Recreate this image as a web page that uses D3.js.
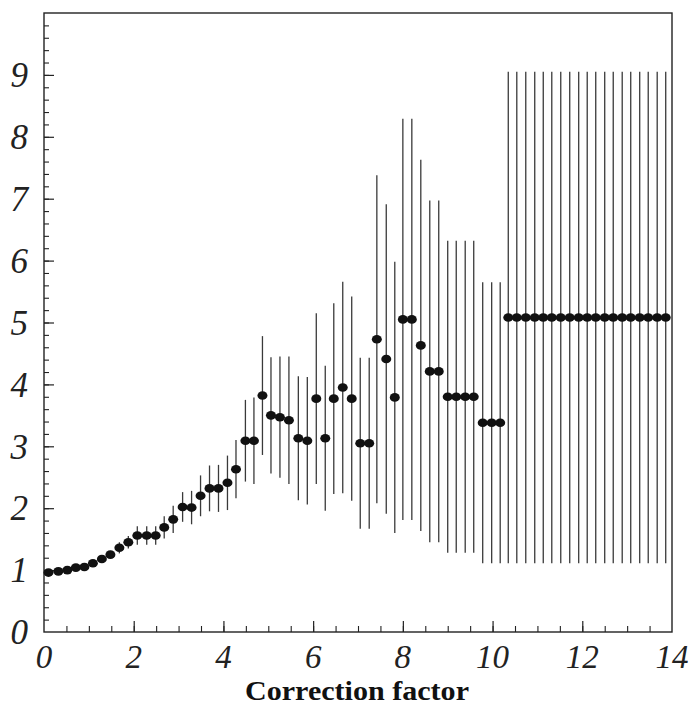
<!DOCTYPE html>
<html><head><meta charset="utf-8">
<script src="https://cdn.jsdelivr.net/npm/d3@7"></script>
<style>html,body{margin:0;padding:0;background:#fff;}svg{display:block;}</style>
</head><body>
<script>
// Bin positions (x), central values and symmetric errors
const xPos = [0.10,0.32,0.52,0.71,0.90,1.09,1.29,1.48,1.68,1.88,
  2.08,2.29,2.49,2.68,2.88,3.09,3.29,3.49,3.69,3.89,
  4.09,4.28,4.49,4.68,4.87,5.06,5.26,5.46,5.67,5.87,
  6.07,6.27,6.46,6.66,6.86,7.05,7.25,7.42,7.63,7.82,
  8.00,8.20,8.40,8.60,8.80,9.00,9.19,9.39,9.58,9.78,
  9.98,10.17,10.35,10.54,10.74,10.94,11.13,11.32,11.52,11.72,
  11.92,12.11,12.30,12.50,12.69,12.89,13.08,13.28,13.47,13.67,13.86];
const values = [0.96,0.98,1.00,1.04,1.05,1.11,1.18,1.25,1.36,1.45,
  1.56,1.56,1.56,1.69,1.82,2.02,2.01,2.20,2.32,2.32,
  2.41,2.63,3.09,3.09,3.82,3.50,3.47,3.42,3.13,3.09,
  3.77,3.13,3.77,3.95,3.77,3.05,3.05,4.73,4.41,3.79,
  5.05,5.05,4.63,4.21,4.21,3.80,3.80,3.80,3.80,3.38,
  3.38,3.38,5.08,5.08,5.08,5.08,5.08,5.08,5.08,5.08,
  5.08,5.08,5.08,5.08,5.08,5.08,5.08,5.08,5.08,5.08,5.08];
const errors = [0.02,0.02,0.03,0.03,0.04,0.04,0.05,0.06,0.09,0.10,
  0.15,0.15,0.15,0.18,0.22,0.24,0.27,0.33,0.37,0.38,
  0.44,0.47,0.66,0.70,0.96,0.94,0.98,1.03,1.00,1.03,
  1.38,1.17,1.54,1.71,1.65,1.38,1.38,2.65,2.50,2.19,
  3.24,3.24,3.00,2.76,2.76,2.52,2.52,2.52,2.52,2.27,
  2.27,2.27,3.97,3.97,3.97,3.97,3.97,3.97,3.97,3.97,
  3.97,3.97,3.97,3.97,3.97,3.97,3.97,3.97,3.97,3.97,3.97];
const xTickLabels = [0,2,4,6,8,10,12,14];
const yTickLabels = [0,1,2,3,4,5,6,7,8,9];
const xTitle = "Correction factor";

const W = 691, H = 707;
const L = 44, R = 672, T = 13, B = 632;
const svg = d3.select("body").append("svg").attr("width", W).attr("height", H);

const x = d3.scaleLinear().domain([0, 14]).range([L, R]);
const y = d3.scaleLinear().domain([0, 10]).range([B, T]);

const data = xPos.map((v, i) => ({x: v, y: values[i], e: errors[i]}));

// frame
svg.append("rect").attr("x", L).attr("y", T).attr("width", R - L).attr("height", B - T)
  .attr("fill", "none").attr("stroke", "#222").attr("stroke-width", 1.4);

// left axis: minor ticks (inward)
const yMinor = d3.axisRight(y).tickValues(d3.range(0, 50).map(i => i / 5).filter(v => v > 0))
  .tickSize(5).tickFormat("");
svg.append("g").attr("transform", `translate(${L},0)`).call(yMinor)
  .call(g => g.select(".domain").remove())
  .call(g => g.selectAll("line").attr("stroke", "#222").attr("stroke-width", 1.1));
const yMajor = d3.axisRight(y).tickValues(yTickLabels.filter(v => v > 0)).tickSize(10).tickFormat("");
svg.append("g").attr("transform", `translate(${L},0)`).call(yMajor)
  .call(g => g.select(".domain").remove())
  .call(g => g.selectAll("line").attr("stroke", "#222").attr("stroke-width", 1.2));

// bottom axis: minor ticks every 0.5, major at labels (inward)
const xMinor = d3.axisTop(x).tickValues(d3.range(1, 28).map(i => i / 2)).tickSize(6).tickFormat("");
svg.append("g").attr("transform", `translate(0,${B})`).call(xMinor)
  .call(g => g.select(".domain").remove())
  .call(g => g.selectAll("line").attr("stroke", "#222").attr("stroke-width", 1.1));
const xMajor = d3.axisTop(x).tickValues(xTickLabels.filter(v => v > 0 && v < 14)).tickSize(11).tickFormat("");
svg.append("g").attr("transform", `translate(0,${B})`).call(xMajor)
  .call(g => g.select(".domain").remove())
  .call(g => g.selectAll("line").attr("stroke", "#222").attr("stroke-width", 1.2));

// tick labels
const labFont = "'Liberation Serif', 'DejaVu Serif', serif";
svg.append("g").selectAll("text").data(yTickLabels).join("text")
  .attr("x", 28).attr("y", d => y(d)).attr("dy", "0.35em")
  .attr("text-anchor", "end").attr("font-family", labFont).attr("font-style", "italic")
  .attr("font-size", 35).attr("fill", "#222").text(d => d);
svg.append("g").selectAll("text").data(xTickLabels).join("text")
  .attr("x", d => x(d)).attr("y", 668)
  .attr("text-anchor", "middle").attr("font-family", labFont).attr("font-style", "italic")
  .attr("font-size", 33).attr("fill", "#222").text(d => d);

// x title
svg.append("text").attr("x", 357).attr("y", 700).attr("text-anchor", "middle")
  .attr("font-family", labFont).attr("font-weight", "bold").attr("font-size", 27)
  .attr("textLength", 224).attr("lengthAdjust", "spacingAndGlyphs")
  .attr("fill", "#111").text(xTitle);

// error bars
svg.append("g").selectAll("line").data(data).join("line")
  .attr("x1", d => x(d.x)).attr("x2", d => x(d.x))
  .attr("y1", d => y(d.y - d.e)).attr("y2", d => y(d.y + d.e))
  .attr("stroke", "#3a3a3a").attr("stroke-width", 1.3);

// markers
svg.append("g").selectAll("ellipse").data(data).join("ellipse")
  .attr("cx", d => x(d.x)).attr("cy", d => y(d.y))
  .attr("rx", 5).attr("ry", 4.3).attr("fill", "#111");
</script>
</body></html>
